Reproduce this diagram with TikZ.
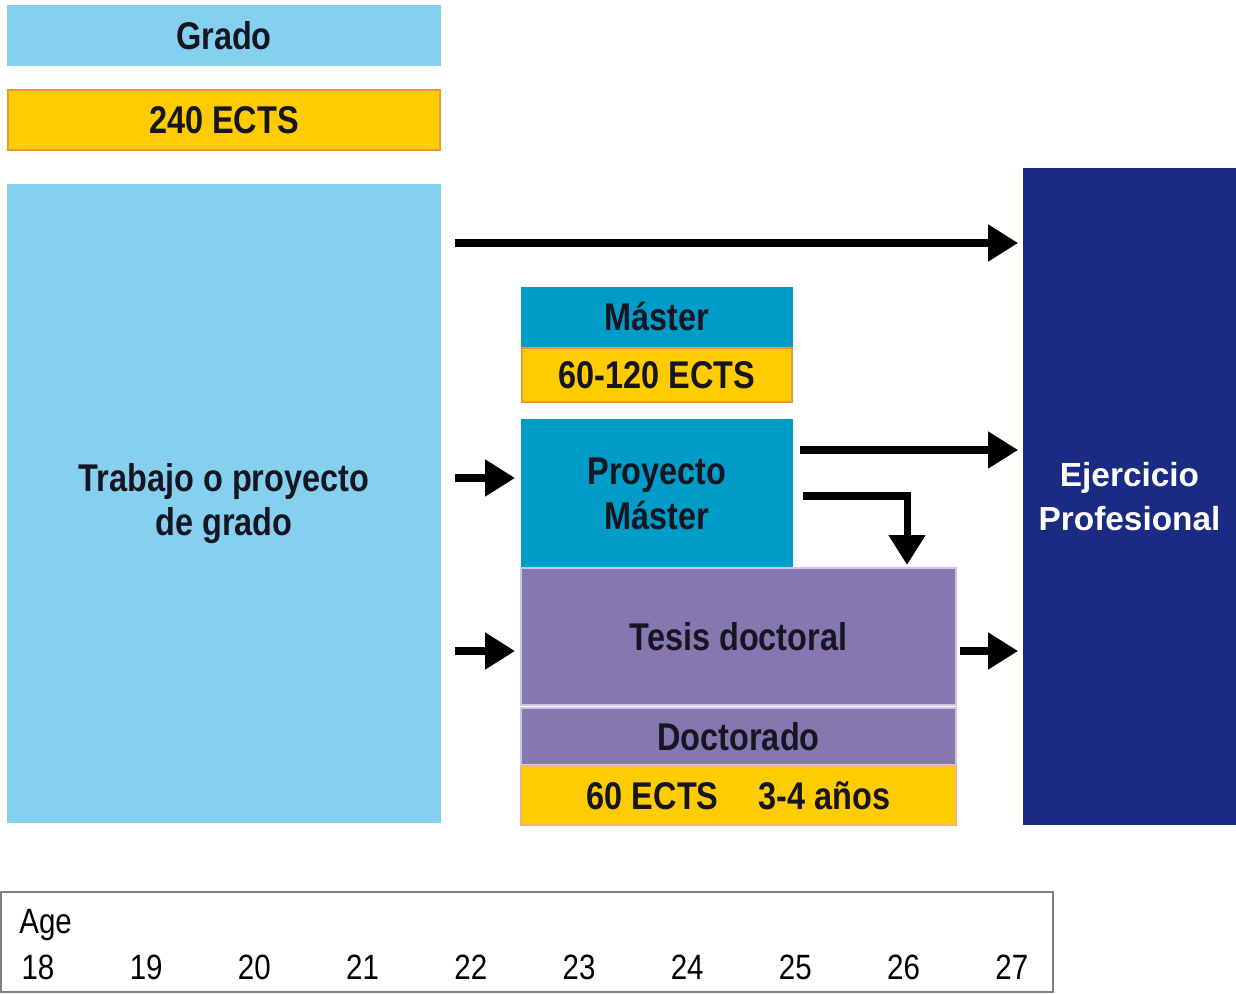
\documentclass[tikz,border=0pt]{standalone}
\usepackage{fontspec}
\setmainfont{Liberation Sans}[FakeStretch=0.84]
\newfontfamily\wideface{Liberation Sans}
\usetikzlibrary{arrows.meta}

\definecolor{gradoblue}{RGB}{133,208,239}
\definecolor{ectsgold}{RGB}{255,204,0}
\definecolor{ectsedge}{RGB}{238,150,50}
\definecolor{masterteal}{RGB}{0,156,200}
\definecolor{docpurple}{RGB}{133,119,176}
\definecolor{doclight}{RGB}{205,196,234}
\definecolor{profnavy}{RGB}{27,42,130}
\definecolor{textdark}{RGB}{22,22,34}

\tikzset{
  sized/.style 2 args={minimum width={#1*0.02cm}, minimum height={#2*0.02cm}},
  block/.style={inner sep=0pt, outer sep=0pt, align=center, text=textdark,
    font=\fontsize{22}{25.5}\selectfont\bfseries},
  gradobox/.style={block, fill=gradoblue},
  ectsbox/.style={block, fill=ectsgold, draw=ectsedge, line width=1.2pt},
  tealbox/.style={block, fill=masterteal},
  purplebox/.style={block, fill=docpurple, draw=doclight, line width=1pt},
  navybox/.style={block, fill=profnavy, text=white,
    font=\wideface\fontsize{19}{25.5}\selectfont\bfseries},
  thickarrow/.style={line width=4pt, -{Triangle[length=17pt,width=20pt]}},
  agelabel/.style={inner sep=0pt, text=black, font=\fontsize{20}{22}\selectfont}
}

\begin{document}
\begin{tikzpicture}[x=0.02cm,y=-0.02cm]
	\useasboundingbox (0,0) rectangle (1236,993);
	
	% left column: Grado
	\node[gradobox, sized={434}{61}] (grado) at (224,35.5) {Grado};
	\node[ectsbox, sized={432}{60}] (ects240) at (224,120) {240 ECTS};
	\node[gradobox, sized={434}{639}] (trabajo) at (224,503.5) {Trabajo o proyecto\\de grado};
	
	% middle column: Master and Doctorado
	\node[tealbox, sized={272}{60}] (master) at (657,317) {Máster};
	\node[ectsbox, sized={270}{54}] (ectsmaster) at (657,375) {60-120 ECTS};
	\node[tealbox, sized={272}{149}] (proyecto) at (657,493.5) {Proyecto\\Máster};
	\node[purplebox, sized={435}{137}] (tesis) at (738.5,636.5) {Tesis doctoral};
	\node[purplebox, sized={435}{57}] (doctorado) at (738.5,736.5) {Doctorado};
	\node[ectsbox, draw=ectsedge!70, line width=0.8pt, sized={435}{59}] (ectsdoc) at (738.5,795.5) {60 ECTS\hspace{0.8em} 3-4 años};
	
	% right column
	\node[navybox, sized={213}{657}] (ejercicio) at (1129.5,496.5) {Ejercicio\\Profesional};
	
	% rows of the arrows
	\coordinate (rowtop)   at (0,243);
	\coordinate (rowpm)    at (0,450);
	\coordinate (elbow)    at (907,496);
	\coordinate (rowtesis) at (0,651);
	
	\draw [thickarrow, shorten <=8pt, shorten >=2.8pt] (trabajo.east |- rowtop) -- (ejercicio.west |- rowtop);
	\draw [thickarrow, shorten <=8pt, shorten >=3.4pt] (trabajo.east |- 0,478) -- (proyecto.west |- 0,478);
	\draw [thickarrow, shorten <=8pt, shorten >=3.4pt] (trabajo.east |- rowtesis) -- (tesis.west |- rowtesis);
	\draw [thickarrow, shorten <=4pt, shorten >=2.8pt] (proyecto.east |- rowpm) -- (ejercicio.west |- rowpm);
	\draw [thickarrow, shorten <=5.7pt, shorten >=1.7pt] (proyecto.east |- elbow) -| (tesis.north -| elbow);
	\draw [thickarrow, shorten <=2pt, shorten >=2.8pt] (tesis.east |- rowtesis) -- (ejercicio.west |- rowtesis);
	
	% age scale
	\node[draw=gray, line width=1.3pt, inner sep=0pt, sized={1052}{100}] (agebox) at (527,942) {};
	\node[agelabel, anchor=west] (age) at (19,925) {Age};
	\foreach \a [count=\i from 0] in {18,...,27}
		\node[agelabel] (age\a) at (38+108.2*\i,967) {\a};
	
\end{tikzpicture}
\end{document}
